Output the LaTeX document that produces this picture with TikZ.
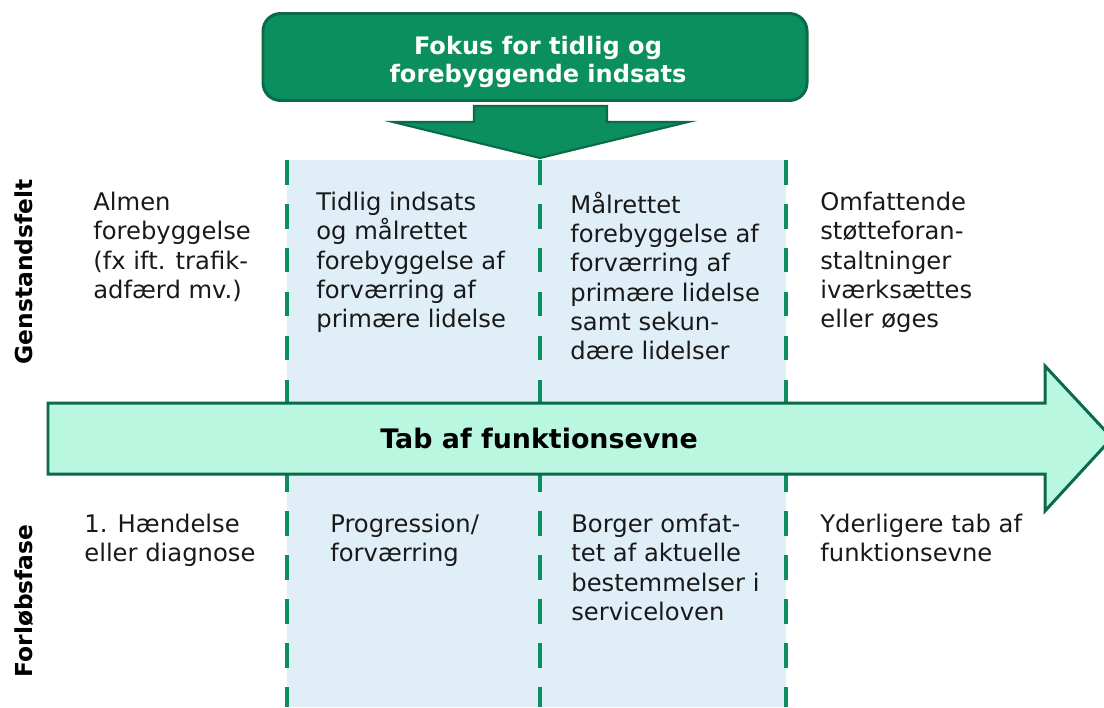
\documentclass[tikz,border=0pt]{standalone}
\usepackage{fontspec}
\setmainfont{DejaVu Sans}
\usepackage{xcolor}
\usetikzlibrary{positioning}

\definecolor{fokusgreen}{HTML}{0B8F5F}
\definecolor{fokusedge}{HTML}{096B47}
\definecolor{panelblue}{HTML}{E0EFF7}
\definecolor{arrowmint}{HTML}{BAF7E1}

\begin{document}
\begin{tikzpicture}[x=0.02cm, y=-0.02cm,
    txt/.style={anchor=north west, align=left, inner sep=0pt, text=black!90,
        font=\fontsize{13.8}{16.6}\selectfont},
    sidelabel/.style={rotate=90, inner sep=0pt, font=\bfseries\fontsize{13.3}{15}\selectfont},
    divider/.style={line width=2.8pt, draw=fokusgreen, dash pattern=on 14pt off 11pt},
    bigarrow/.style={draw=fokusedge, line width=1.7pt, fill=arrowmint, line join=miter}
]
    \useasboundingbox (0,0) rectangle (1104,707);

    % focus area
    \fill[panelblue] (287,160) rectangle (786,707);
    \foreach \x in {287,540,786}
        \draw[divider] (\x,160) -- (\x,707);

    % focus box and arrow down
    \node[draw=fokusedge, line width=1.7pt, fill=fokusgreen, rounded corners=10pt,
        minimum width=544*0.02cm, minimum height=87*0.02cm] (fokus) at (535,57) {};
    \node[align=center, text=white, font=\bfseries\fontsize{13.7}{16.2}\selectfont]
        (fokustxt) at (538,62) {Fokus for tidlig og\\forebyggende indsats};
    \draw[draw=fokusedge, line width=1.2pt, fill=fokusgreen, line join=miter]
        (474,106) -- (607,106) -- (607,122) -- (688,122) -- (540,158)
        -- (393,122) -- (474,122) -- cycle;

    % main arrow
    \draw[bigarrow] (48,403) -- (1045,403) -- (1045,366) -- (1112,438)
        -- (1045,511) -- (1045,474) -- (48,474) -- cycle;
    \node[font=\bfseries\fontsize{15.3}{18}\selectfont] (tab) at (539,438) {Tab af funktionsevne};

    % side labels
    \node[sidelabel] (genstand) at (24,272) {Genstandsfelt};
    \node[sidelabel] (forloeb) at (24,601) {Forløbsfase};

    % upper row
    \node[txt] (almen) at (93,192) {Almen\\forebyggelse\\(fx ift. trafik-\\adfærd mv.)};
    \node[txt] (tidlig) at (316,192) {Tidlig indsats\\og målrettet\\forebyggelse af\\forværring af\\primære lidelse};
    \node[txt] (maalrettet) at (570,192) {Målrettet\\forebyggelse af\\forværring af\\primære lidelse\\samt sekun-\\dære lidelser};
    \node[txt] (omfattende) at (820,192) {Omfattende\\støtteforan-\\staltninger\\iværksættes\\eller øges};

    % lower row
    \node[txt] (haendelse) at (84,514) {1. Hændelse\\eller diagnose};
    \node[txt] (progression) at (330,514) {Progression/\\forværring};
    \node[txt] (borger) at (571,514) {Borger omfat-\\tet af aktuelle\\bestemmelser i\\serviceloven};
    \node[txt] (yderligere) at (820,514) {Yderligere tab af\\funktionsevne};
\end{tikzpicture}
\end{document}
